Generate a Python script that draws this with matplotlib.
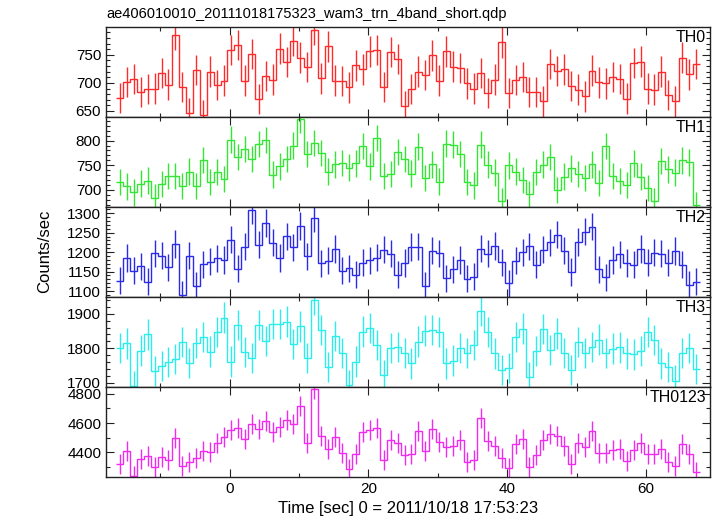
import numpy as np
import matplotlib
matplotlib.use("Agg")
import matplotlib.pyplot as plt
from matplotlib.ticker import MultipleLocator

plt.rcParams["font.family"] = ["Liberation Sans", "DejaVu Sans"]

# light curve: 1 s bins, first bin centre at -15.8 s
t_first = -15.8
bin_width = 1.0

th0 = [673, 702, 707, 684, 689, 690, 718, 697, 785, 693, 646, 723, 642, 720, 696, 704,
       758, 768, 704, 752, 671, 712, 706, 761, 737, 775, 745, 728, 795, 708, 765, 704,
       703, 692, 731, 724, 756, 759, 693, 755, 743, 658, 689, 720, 714, 749, 704, 756,
       729, 726, 699, 690, 718, 682, 706, 772, 682, 705, 710, 684, 684, 667, 734, 721,
       724, 694, 688, 676, 722, 701, 699, 711, 707, 672, 736, 738, 690, 688, 720, 678,
       667, 745, 715, 734]
th1 = [716, 707, 695, 713, 719, 684, 712, 728, 728, 708, 737, 708, 761, 716, 736, 722,
       802, 767, 783, 763, 793, 801, 731, 748, 763, 790, 843, 773, 795, 775, 737, 752,
       755, 745, 754, 789, 748, 805, 728, 732, 777, 763, 733, 788, 724, 752, 717, 794,
       792, 773, 716, 709, 792, 751, 735, 677, 750, 737, 720, 691, 736, 751, 767, 700,
       727, 744, 732, 724, 752, 714, 789, 728, 718, 710, 754, 727, 704, 677, 759, 742,
       735, 760, 756, 669]
th2 = [1127, 1185, 1152, 1164, 1124, 1197, 1191, 1161, 1221, 1090, 1191, 1113, 1169, 1175,
       1184, 1180, 1232, 1157, 1214, 1308, 1219, 1275, 1224, 1185, 1241, 1212, 1267, 1189,
       1288, 1171, 1178, 1208, 1152, 1158, 1142, 1173, 1179, 1186, 1206, 1196, 1142, 1172,
       1213, 1214, 1114, 1204, 1197, 1133, 1156, 1180, 1132, 1137, 1209, 1196, 1216, 1174,
       1120, 1178, 1200, 1215, 1168, 1206, 1225, 1245, 1204, 1149, 1226, 1253, 1265, 1156,
       1135, 1180, 1194, 1172, 1168, 1208, 1173, 1199, 1196, 1173, 1203, 1168, 1116, 1124]
th3 = [1801, 1814, 1691, 1793, 1840, 1734, 1748, 1760, 1768, 1817, 1757, 1815, 1833, 1790,
       1847, 1889, 1761, 1868, 1789, 1771, 1868, 1821, 1871, 1871, 1877, 1812, 1863, 1771,
       1941, 1853, 1745, 1836, 1787, 1694, 1761, 1848, 1859, 1810, 1722, 1801, 1803, 1786,
       1756, 1819, 1851, 1853, 1847, 1756, 1764, 1801, 1786, 1809, 1909, 1847, 1785, 1736,
       1742, 1832, 1857, 1716, 1792, 1855, 1795, 1843, 1786, 1736, 1817, 1786, 1803, 1825,
       1786, 1799, 1802, 1785, 1782, 1792, 1847, 1824, 1756, 1745, 1706, 1786, 1801, 1739]
th0123 = [4318, 4409, 4241, 4354, 4373, 4302, 4366, 4345, 4500, 4309, 4332, 4361, 4407, 4402,
          4466, 4502, 4552, 4564, 4489, 4595, 4557, 4611, 4536, 4570, 4620, 4593, 4718, 4464,
          4829, 4514, 4423, 4502, 4398, 4286, 4389, 4536, 4550, 4564, 4345, 4482, 4464, 4380,
          4391, 4543, 4407, 4559, 4468, 4436, 4441, 4482, 4334, 4345, 4634, 4477, 4441, 4361,
          4291, 4454, 4489, 4300, 4380, 4482, 4523, 4514, 4441, 4323, 4464, 4436, 4543, 4396,
          4396, 4418, 4423, 4339, 4414, 4466, 4391, 4391, 4425, 4336, 4309, 4459, 4391, 4266]

# typical 1-sigma errors per band (counts/sec)
errors = [27, 27, 35, 44, 68]
names = ["TH0", "TH1", "TH2", "TH3", "TH0123"]
series = [th0, th1, th2, th3, th0123]

colors = ["#ff2a2a", "#33e633", "#2a2ae8", "#2aeeee", "#f02af0"]
ylims = [(639.3, 799.5), (665.3, 848.0), (1084.6, 1316.0), (1687.4, 1948.5), (4231.6, 4845.7)]
ysteps = [(50, 10), (50, 10), (50, 10), (100, 20), (200, 100)]

fig = plt.figure(figsize=(7.17, 5.16), dpi=100)
left, right, top, bottom = 106 / 717, 710 / 717, 1 - 27 / 516, 1 - 477 / 516
h = (top - bottom) / 5

for k, (vals, name) in enumerate(zip(series, names)):
    ax = fig.add_axes([left, top - (k + 1) * h, right - left, h])
    vals = np.asarray(vals, dtype=float)
    t = t_first + bin_width * np.arange(len(vals))
    edges = np.append(t - bin_width / 2, t[-1] + bin_width / 2)
    ax.stairs(vals, edges, baseline=None, color=colors[k], lw=1.0)
    ax.errorbar(t, vals, yerr=errors[k], fmt="none", ecolor=colors[k], elinewidth=1.0)

    ax.set_xlim(-17.8, 69.2)
    ax.set_ylim(*ylims[k])
    ax.xaxis.set_major_locator(MultipleLocator(20))
    ax.xaxis.set_minor_locator(MultipleLocator(10))
    ax.yaxis.set_major_locator(MultipleLocator(ysteps[k][0]))
    ax.yaxis.set_minor_locator(MultipleLocator(ysteps[k][1]))
    ax.tick_params(which="both", direction="in", top=True, right=True, labelsize=11,
                   color="#222222", width=0.8)
    ax.tick_params(which="major", length=6)
    ax.tick_params(which="minor", length=3)
    for sp in ax.spines.values():
        sp.set_linewidth(1.0)
        sp.set_color("#222222")
    if k < 4:
        ax.tick_params(labelbottom=False)
    else:
        ax.set_xlabel("Time [sec] 0 = 2011/10/18 17:53:23", fontsize=12, labelpad=4)
    ax.text(0.993, 0.965, name, transform=ax.transAxes, ha="right", va="top", fontsize=11.5)

fig.text(left, 1 - 18 / 516, "ae406010010_20111018175323_wam3_trn_4band_short.qdp",
         ha="left", va="baseline", fontsize=10.5)
fig.text(45 / 717, 0.512, "Counts/sec", rotation=90, ha="center", va="center", fontsize=12)

fig.savefig("out.png", dpi=100)
